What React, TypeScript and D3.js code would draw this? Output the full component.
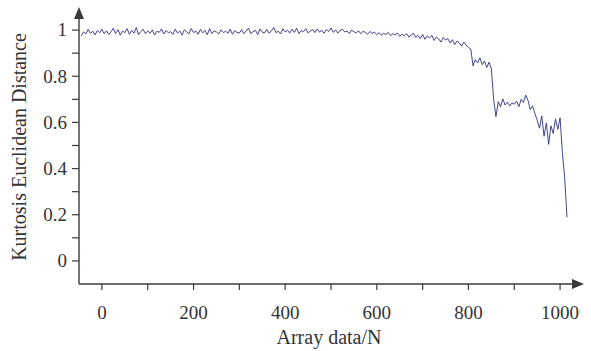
import React, { useEffect, useRef } from "react";
import * as d3 from "d3";

// x positions of the samples: start and step of the array index
const xStart = -45;
const xStep = 5;

// kurtosis euclidean distance, one value per sample
const distance = [
  0.975, 0.992, 0.983, 1.003, 0.986, 0.995, 0.979, 0.998, 0.988, 1.004,
  0.984, 0.997, 0.981, 0.993, 1.008, 0.985, 1.002, 0.978, 0.996, 0.989,
  1.006, 0.982, 0.999, 0.987, 1.011, 0.98, 0.994, 1.003, 0.984, 0.997,
  0.986, 1.001, 0.979, 0.995, 0.99, 1.005, 0.983, 0.998, 0.988, 0.993,
  0.981, 1.004, 0.987, 0.996, 0.978, 1.002, 0.991, 0.984, 1.007, 0.989,
  0.996, 0.982, 1.003, 0.988, 0.999, 0.98, 1.006, 0.985, 0.997, 0.992,
  0.983, 1.001, 0.989, 0.995, 0.986, 1.004, 0.982, 0.998, 0.99, 0.987,
  1.002, 0.984, 0.996, 1.009, 0.985, 0.993, 0.999, 0.981, 1.005, 0.991,
  0.988, 1.003, 0.986, 0.997, 1.012, 0.989, 0.995, 0.983, 1.006, 0.992,
  0.999, 0.987, 1.004, 0.99, 1.008, 0.985, 0.998, 0.993, 1.006, 0.988,
  0.996, 1.002, 0.989, 1.005, 0.991, 0.999, 0.986, 1.003, 0.994, 1.009,
  0.99, 1.001, 0.987, 0.998, 1.004, 0.992, 0.996, 0.985, 1.0, 0.993,
  0.988, 0.997, 0.984, 0.995, 0.99, 0.982, 0.994, 0.986, 0.991, 0.98,
  0.989, 0.978, 0.986, 0.981, 0.99, 0.976, 0.984, 0.979, 0.987, 0.973,
  0.982, 0.975, 0.984, 0.97, 0.979, 0.986, 0.968, 0.977, 0.963, 0.981,
  0.96, 0.975, 0.966, 0.978, 0.955, 0.97, 0.962, 0.948, 0.968, 0.957,
  0.963, 0.944, 0.958, 0.937, 0.952, 0.945, 0.93, 0.948, 0.935, 0.924,
  0.918, 0.845, 0.872, 0.858, 0.88, 0.85, 0.866, 0.838, 0.861, 0.832,
  0.7, 0.625, 0.69, 0.668, 0.702, 0.675, 0.688, 0.671, 0.684, 0.679,
  0.692, 0.668, 0.7, 0.686, 0.718, 0.695, 0.655, 0.672, 0.638, 0.61,
  0.575, 0.628, 0.54, 0.598, 0.505, 0.585, 0.552, 0.615, 0.57, 0.62,
  0.47, 0.36, 0.19,
];

const xTicks = [0, 100, 200, 300, 400, 500, 600, 700, 800, 900, 1000];
const xLabels = [0, 200, 400, 600, 800, 1000];
const yTicks = [0, 0.1, 0.2, 0.3, 0.4, 0.5, 0.6, 0.7, 0.8, 0.9, 1];
const yLabels = [0, 0.2, 0.4, 0.6, 0.8, 1];

const App = () => {
  const ref = useRef<SVGSVGElement>(null);

  useEffect(() => {
    const svg = d3.select(ref.current);
    svg.selectAll("*").remove();

    const font = "'Liberation Serif', 'DejaVu Serif', serif";
    const axisColor = "#3a3a3a";

    const x = d3.scaleLinear().domain([-50, 1050]).range([79, 583]);
    const y = d3.scaleLinear().domain([-0.1, 1.1]).range([284, 7]);

    const data = distance.map((v, i) => ({ n: xStart + i * xStep, v }));

    // the series
    const line = d3
      .line<{ n: number; v: number }>()
      .x((d) => x(d.n))
      .y((d) => y(d.v));

    svg
      .append("path")
      .datum(data)
      .attr("d", line)
      .attr("fill", "none")
      .attr("stroke", "#2e3182")
      .attr("stroke-width", 0.9);

    // axes lines with arrow heads
    svg
      .append("line")
      .attr("x1", 79)
      .attr("x2", 576)
      .attr("y1", 284)
      .attr("y2", 284)
      .attr("stroke", axisColor)
      .attr("stroke-width", 1.4);
    svg
      .append("path")
      .attr("d", "M584,284 L572,279 L572,289 Z")
      .attr("fill", axisColor);

    svg
      .append("line")
      .attr("x1", 79)
      .attr("x2", 79)
      .attr("y1", 284)
      .attr("y2", 15)
      .attr("stroke", axisColor)
      .attr("stroke-width", 1.4);
    svg
      .append("path")
      .attr("d", "M79,7 L74,19 L84,19 Z")
      .attr("fill", axisColor);

    // x ticks
    svg
      .selectAll(".xtick")
      .data(xTicks)
      .enter()
      .append("line")
      .attr("x1", (d) => x(d))
      .attr("x2", (d) => x(d))
      .attr("y1", 284)
      .attr("y2", 290)
      .attr("stroke", axisColor)
      .attr("stroke-width", 1.2);

    svg
      .selectAll(".xlabel")
      .data(xLabels)
      .enter()
      .append("text")
      .attr("x", (d) => x(d))
      .attr("y", 319)
      .attr("text-anchor", "middle")
      .style("font-family", font)
      .style("font-size", "19px")
      .attr("fill", "#333")
      .text((d) => d);

    // y ticks
    svg
      .selectAll(".ytick")
      .data(yTicks)
      .enter()
      .append("line")
      .attr("x1", 72)
      .attr("x2", 79)
      .attr("y1", (d) => y(d))
      .attr("y2", (d) => y(d))
      .attr("stroke", axisColor)
      .attr("stroke-width", 1.2);

    svg
      .selectAll(".ylabel")
      .data(yLabels)
      .enter()
      .append("text")
      .attr("x", 67)
      .attr("y", (d) => y(d))
      .attr("dy", "0.33em")
      .attr("text-anchor", "end")
      .style("font-family", font)
      .style("font-size", "19px")
      .attr("fill", "#333")
      .text((d) => d);

    // titles
    svg
      .append("text")
      .attr("x", 329)
      .attr("y", 344)
      .attr("text-anchor", "middle")
      .style("font-family", font)
      .style("font-size", "20px")
      .attr("fill", "#333")
      .text("Array data/N");

    svg
      .append("text")
      .attr("transform", "translate(26,147) rotate(-90)")
      .attr("text-anchor", "middle")
      .style("font-family", font)
      .style("font-size", "20px")
      .attr("fill", "#333")
      .text("Kurtosis Euclidean Distance");
  }, []);

  return (
    <svg
      ref={ref}
      width={591}
      height={351}
      style={{ position: "absolute", left: 0, top: 0, background: "#fff" }}
    />
  );
};

export default App;
